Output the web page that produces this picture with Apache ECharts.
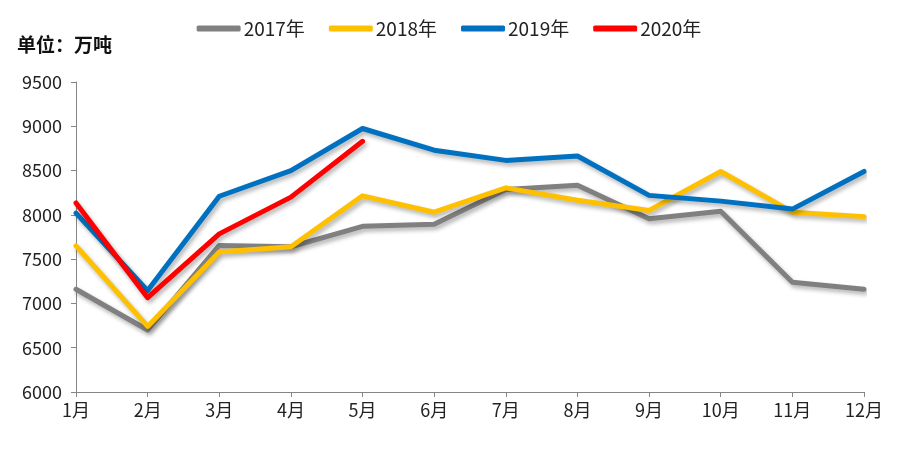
<!DOCTYPE html>
<html><head><meta charset="utf-8">
<script src="https://cdn.jsdelivr.net/npm/echarts@6/dist/echarts.min.js"></script>
<style>html,body{margin:0;padding:0;background:#fff}#c{width:898px;height:450px}</style>
</head><body><div id="c"></div>
<script>
const months = ['1月','2月','3月','4月','5月','6月','7月','8月','9月','10月','11月','12月'];
const seriesNames = ['2017年','2018年','2019年','2020年'];
const d2017 = [7160, 6700, 7655, 7640, 7870, 7895, 8285, 8335, 7955, 8040, 7240, 7160];
const d2018 = [7650, 6740, 7580, 7640, 8215, 8030, 8305, 8165, 8050, 8490, 8030, 7980];
const d2019 = [8020, 7145, 8210, 8500, 8975, 8730, 8615, 8665, 8220, 8155, 8065, 8490];
const d2020 = [8135, 7065, 7785, 8200, 8830];
const colors = ['#808080', '#FFC000', '#0070C0', '#FF0000'];
const allData = [d2017, d2018, d2019, d2020];
const font = '"Noto Sans CJK SC", "Liberation Sans", sans-serif';

const chart = echarts.init(document.getElementById('c'), null, {renderer: 'canvas'});
chart.setOption({
  animation: false,
  backgroundColor: '#fff',
  title: {
    text: '单位：万吨', left: 12, top: 30,
    textStyle: {fontFamily: font, fontSize: 19, fontWeight: 'bold', color: '#111'}
  },
  legend: {
    top: 14, left: 'center',
    itemWidth: 44, itemHeight: 6, itemGap: 24,
    icon: 'roundRect',
    textStyle: {fontFamily: font, fontSize: 19, color: '#222', padding: [0,0,0,-2]},
    data: seriesNames
  },
  grid: {left: 76, right: 34, top: 82, bottom: 58, containLabel: false},
  xAxis: {
    type: 'category', boundaryGap: false, data: months,
    axisLine: {lineStyle: {color: '#868686', width: 1}},
    axisTick: {show: true, length: 5, lineStyle: {color: '#868686'}},
    axisLabel: {fontFamily: font, fontSize: 18, color: '#222', margin: 9}
  },
  yAxis: {
    type: 'value', min: 6000, max: 9500, interval: 500,
    axisLine: {show: true, lineStyle: {color: '#868686', width: 1}},
    axisTick: {show: true, length: 5, lineStyle: {color: '#868686'}},
    splitLine: {show: false},
    axisLabel: {fontFamily: font, fontSize: 18, color: '#222', margin: 14, formatter: v => String(v)}
  },
  series: seriesNames.map((n, i) => ({
    name: n, type: 'line', data: allData[i],
    symbol: 'none', smooth: false,
    itemStyle: {color: colors[i]},
    lineStyle: {color: colors[i], width: 5, cap: 'round', join: 'round',
      shadowColor: 'rgba(0,0,0,0.3)', shadowBlur: 4, shadowOffsetX: 2, shadowOffsetY: 3},
    z: 2 + i
  }))
});
</script></body></html>
